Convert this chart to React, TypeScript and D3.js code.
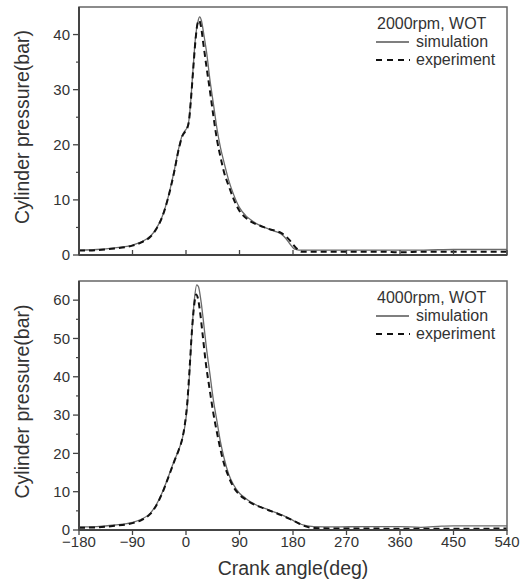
import React from "react";
import * as d3 from "d3";

const topSimAngle = [-180,-150,-120,-90,-75,-60,-50,-40,-30,-20,-12,-6,-2,2,5,8,12,16,20,23,26,30,35,40,46,52,58,64,72,80,90,100,110,120,130,140,150,160,168,175,182,190,220,270,330,360,400,450,540];
const topSimP = [0.9,1.0,1.3,1.8,2.4,3.4,4.8,7.0,10.5,15.2,19.5,21.8,22.5,23.2,24.5,28,34,39.5,42.3,43.2,42.5,40,36.5,32,27.5,23,19.5,16.8,13.5,11,8.6,7.2,6.3,5.6,5.1,4.7,4.3,3.8,3.0,2.0,1.1,0.9,0.9,0.9,0.9,0.9,0.9,1.0,1.0];

const topExpAngle = [-180,-150,-120,-90,-75,-60,-50,-40,-30,-20,-12,-6,-2,2,5,8,12,16,19,22,25,29,34,40,46,52,58,64,72,80,90,100,110,120,130,140,150,160,170,178,186,195,220,270,330,360,400,450,540];
const topExpP = [0.8,0.9,1.2,1.7,2.3,3.3,4.7,6.9,10.4,15.0,19.3,21.6,22.3,23.0,24.3,27.8,33.5,39,41.8,42.6,41.6,38.5,34.5,30,25.3,21,17.8,15,12.5,10.2,8.0,6.8,6.0,5.5,5.1,4.7,4.4,4.0,3.2,2.2,1.2,0.6,0.6,0.6,0.6,0.5,0.6,0.6,0.6];

const botSimAngle = [-180,-150,-120,-90,-75,-60,-50,-40,-30,-20,-12,-6,-2,2,6,10,14,18,21,25,29,34,40,46,52,58,64,72,80,90,100,110,120,130,140,150,160,170,180,190,200,215,250,300,360,395,430,450,540];
const botSimP = [0.8,0.9,1.3,2.0,2.8,4.4,6.6,9.8,13.8,18.0,21.0,24.0,27,32,41,52,60,64,63.5,60,55,48,41,34,28.5,23,18.8,14.5,11.8,9.6,8.3,7.2,6.4,5.8,5.2,4.6,4.0,3.3,2.5,1.7,1.2,0.9,0.8,0.9,0.9,0.7,1.0,1.1,1.1];

const botExpAngle = [-180,-150,-120,-90,-75,-60,-50,-40,-30,-20,-12,-6,-2,2,6,10,14,17,20,24,28,33,40,46,52,58,64,72,80,90,100,110,120,130,140,150,160,170,180,190,200,215,250,300,360,400,450,540];
const botExpP = [0.6,0.7,1.1,1.8,2.6,4.2,6.4,9.6,13.6,17.8,21,24,27.5,33,42,52,59,61.5,60.5,56.5,51,44,36.5,30.5,25.5,21,17.3,13.8,11.2,9.2,8.0,7.0,6.3,5.7,5.1,4.5,3.9,3.2,2.5,1.7,1.0,0.5,0.4,0.4,0.3,0.3,0.3,0.4];

const xTicks = [-180,-90,0,90,180,270,360,450,540];
const topYTicks = [0,10,20,30,40];
const botYTicks = [0,10,20,30,40,50,60];
const topTitle = "2000rpm, WOT";
const botTitle = "4000rpm, WOT";
const legendLabels = ["simulation", "experiment"];
const yLabel = "Cylinder pressure(bar)";
const xLabel = "Crank angle(deg)";

const FONT = "'Liberation Sans', Arial, Helvetica, sans-serif";
const L = 79, R = 507;

type PanelProps = {
  top: number; bottom: number; yMax: number; yTicks: number[];
  sim: [number[], number[]]; exp: [number[], number[]]; title: string; showX: boolean;
};

function Panel({ top, bottom, yMax, yTicks, sim, exp, title, showX }: PanelProps) {
  const x = d3.scaleLinear().domain([-180, 540]).range([L, R]);
  const y = d3.scaleLinear().domain([0, yMax]).range([bottom, top]);
  const line = d3.line<[number, number]>().x(d => x(d[0])).y(d => y(d[1])).curve(d3.curveMonotoneX);
  const simPts = sim[0].map((a, i) => [a, sim[1][i]] as [number, number]);
  const expPts = exp[0].map((a, i) => [a, exp[1][i]] as [number, number]);
  const minor = d3.range(5, yMax, 10);
  const axisColor = "#444";
  return (
    <g>
      <path d={line(simPts) || ""} fill="none" stroke="#6a6a6a" strokeWidth={1.3} />
      <path d={line(expPts) || ""} fill="none" stroke="#111" strokeWidth={2} strokeDasharray="6,4" />
      <rect x={L} y={top} width={R - L} height={bottom - top} fill="none" stroke="#666" strokeWidth={1.5} />
      <line x1={L} x2={L} y1={top} y2={bottom} stroke={axisColor} strokeWidth={2} />
      <line x1={L} x2={R} y1={bottom} y2={bottom} stroke={axisColor} strokeWidth={2} />
      {yTicks.map(t => (
        <g key={"y" + t}>
          <line x1={L - 6} x2={L} y1={y(t)} y2={y(t)} stroke={axisColor} strokeWidth={1.3} />
          <text x={L - 9} y={y(t)} dy="0.35em" textAnchor="end" fontSize={15} fill="#333" fontFamily={FONT}>{t}</text>
        </g>
      ))}
      {minor.map(t => (
        <line key={"m" + t} x1={L - 3} x2={L} y1={y(t)} y2={y(t)} stroke={axisColor} strokeWidth={1.2} />
      ))}
      {xTicks.map(t => (
        <g key={"x" + t}>
          {showX ? (
            <>
              <line x1={x(t)} x2={x(t)} y1={bottom} y2={bottom + 5} stroke={axisColor} strokeWidth={1.3} />
              <text x={x(t)} y={bottom + 17} textAnchor="middle" fontSize={15} fill="#333" fontFamily={FONT}>{t < 0 ? "\u2212" + Math.abs(t) : t}</text>
            </>
          ) : (
            <line x1={x(t)} x2={x(t)} y1={bottom - 5} y2={bottom} stroke={axisColor} strokeWidth={1.3} />
          )}
        </g>
      ))}
      <text transform={`translate(29,${(top + bottom) / 2 - 4}) rotate(-90)`} textAnchor="middle" fontSize={19.5} fill="#333" fontFamily={FONT}>{yLabel}</text>
      <g fontFamily={FONT} fontSize={16} fill="#333">
        <text x={377} y={top + 22}>{title}</text>
        <line x1={376} x2={409} y1={top + 35} y2={top + 35} stroke="#555" strokeWidth={1.3} />
        <text x={416} y={top + 40}>{legendLabels[0]}</text>
        <line x1={376} x2={410} y1={top + 53} y2={top + 53} stroke="#111" strokeWidth={2} strokeDasharray="6,5" />
        <text x={416} y={top + 58}>{legendLabels[1]}</text>
      </g>
    </g>
  );
}

export default function App() {
  return (
    <svg width={530} height={582} style={{ position: "absolute", left: 0, top: 0, background: "#fff" }}>
      <rect width={530} height={582} fill="#fff" />
      <Panel top={7} bottom={255} yMax={45} yTicks={topYTicks} sim={[topSimAngle, topSimP]} exp={[topExpAngle, topExpP]} title={topTitle} showX={false} />
      <Panel top={281} bottom={530} yMax={65} yTicks={botYTicks} sim={[botSimAngle, botSimP]} exp={[botExpAngle, botExpP]} title={botTitle} showX={true} />
      <text x={293} y={575} textAnchor="middle" fontSize={19.5} fill="#333" fontFamily={FONT}>{xLabel}</text>
    </svg>
  );
}
